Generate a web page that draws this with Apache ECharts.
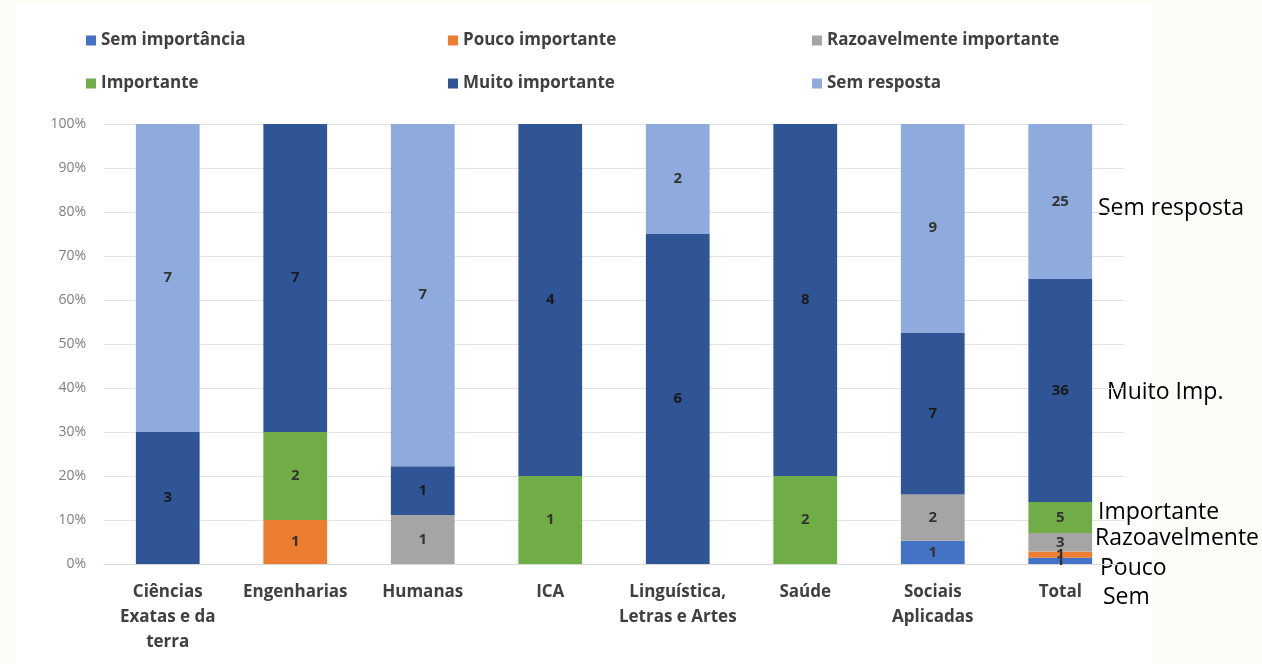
<!DOCTYPE html>
<html>
<head>
<meta charset="utf-8">
<script src="https://cdn.jsdelivr.net/npm/echarts@6/dist/echarts.min.js"></script>
<style>
  html, body { margin: 0; padding: 0; background: #fcfbf6; }
  #container { width: 1262px; height: 664px; }
</style>
</head>
<body>
<div id="container"></div>
<script>
var categories = ['Ciências\nExatas e da\nterra', 'Engenharias', 'Humanas', 'ICA', 'Linguística,\nLetras e Artes', 'Saúde', 'Sociais\nAplicadas', 'Total'];
var seriesNames = ['Sem importância', 'Pouco importante', 'Razoavelmente importante', 'Importante', 'Muito importante', 'Sem resposta'];
var semImportancia = [0, 0, 0, 0, 0, 0, 1, 1];
var poucoImportante = [0, 1, 0, 0, 0, 0, 0, 1];
var razoavelmente = [0, 0, 1, 0, 0, 0, 2, 3];
var importante = [0, 2, 0, 1, 0, 2, 0, 5];
var muitoImportante = [3, 7, 1, 4, 6, 8, 7, 36];
var semResposta = [7, 0, 7, 0, 2, 0, 9, 25];
var colors = ['#4472c4', '#ed7d31', '#a5a5a5', '#70ad47', '#2f5597', '#8faadc'];
var yTicks = ['0%', '10%', '20%', '30%', '40%', '50%', '60%', '70%', '80%', '90%', '100%'];

var counts = [semImportancia, poucoImportante, razoavelmente, importante, muitoImportante, semResposta];
var totals = categories.map(function (c, i) {
    var s = 0;
    counts.forEach(function (arr) { s += arr[i]; });
    return s;
});

var myChart = echarts.init(document.getElementById('container'));

var series = counts.map(function (arr, k) {
    return {
        name: seriesNames[k],
        type: 'bar',
        stack: 'total',
        barWidth: '50%',
        itemStyle: { color: colors[k] },
        data: arr.map(function (v, i) {
            return { value: v === 0 ? null : v / totals[i] * 100, count: v };
        }),
        label: {
            show: true,
            position: 'inside',
            color: k === 4 ? '#1a1a1a' : '#333',
            fontFamily: 'Open Sans',
            fontWeight: 'bold',
            fontSize: 15,
            formatter: function (p) { return p.data.count; }
        }
    };
});

var legendPos = [[81, 27], [443, 27], [807, 27], [81, 70], [443, 70], [807, 70]];
var legends = seriesNames.map(function (n, k) {
    return {
        data: [n],
        left: legendPos[k][0],
        top: legendPos[k][1],
        itemWidth: 10,
        itemHeight: 10,
        icon: 'rect',
        itemGap: 4,
        textStyle: { color: '#404040', fontSize: 17, fontWeight: 'bold', fontFamily: 'Open Sans' }
    };
});

var notes = [
    ['Sem resposta', 1098, 208],
    ['Muito Imp.', 1107, 392],
    ['Importante', 1098, 512],
    ['Razoavelmente', 1095, 538],
    ['Pouco', 1100, 568],
    ['Sem', 1103, 597]
];

var option = {
    backgroundColor: '#fcfbf6',
    animation: false,
    legend: legends,
    graphic: [{
        type: 'rect',
        z: -10,
        shape: { x: 16, y: 4, width: 1136, height: 660 },
        style: { fill: '#ffffff' }
    }].concat(notes.map(function (n) {
        return {
            type: 'text',
            x: n[1],
            y: n[2],
            style: { text: n[0], fontSize: 23, fill: '#000', fontFamily: 'Open Sans', verticalAlign: 'middle' }
        };
    })),
    grid: { left: 104, right: 138, top: 124, bottom: 100 },
    xAxis: {
        type: 'category',
        data: categories,
        axisTick: { show: false },
        axisLine: { lineStyle: { color: '#d9d9d9' } },
        axisLabel: {
            color: '#404040',
            fontSize: 17,
            fontWeight: 'bold',
            fontFamily: 'Open Sans',
            lineHeight: 25,
            margin: 16,
            interval: 0
        }
    },
    yAxis: {
        type: 'value',
        min: 0,
        max: 100,
        interval: 10,
        axisLine: { show: false },
        axisTick: { show: false },
        splitLine: { lineStyle: { color: '#e3e3e3' } },
        axisLabel: {
            color: '#7f7f7f',
            fontSize: 14,
            fontFamily: 'Open Sans',
            margin: 18,
            formatter: function (v) { return yTicks[Math.round(v / 10)]; }
        }
    },
    series: series
};

myChart.setOption(option);
</script>
</body>
</html>
